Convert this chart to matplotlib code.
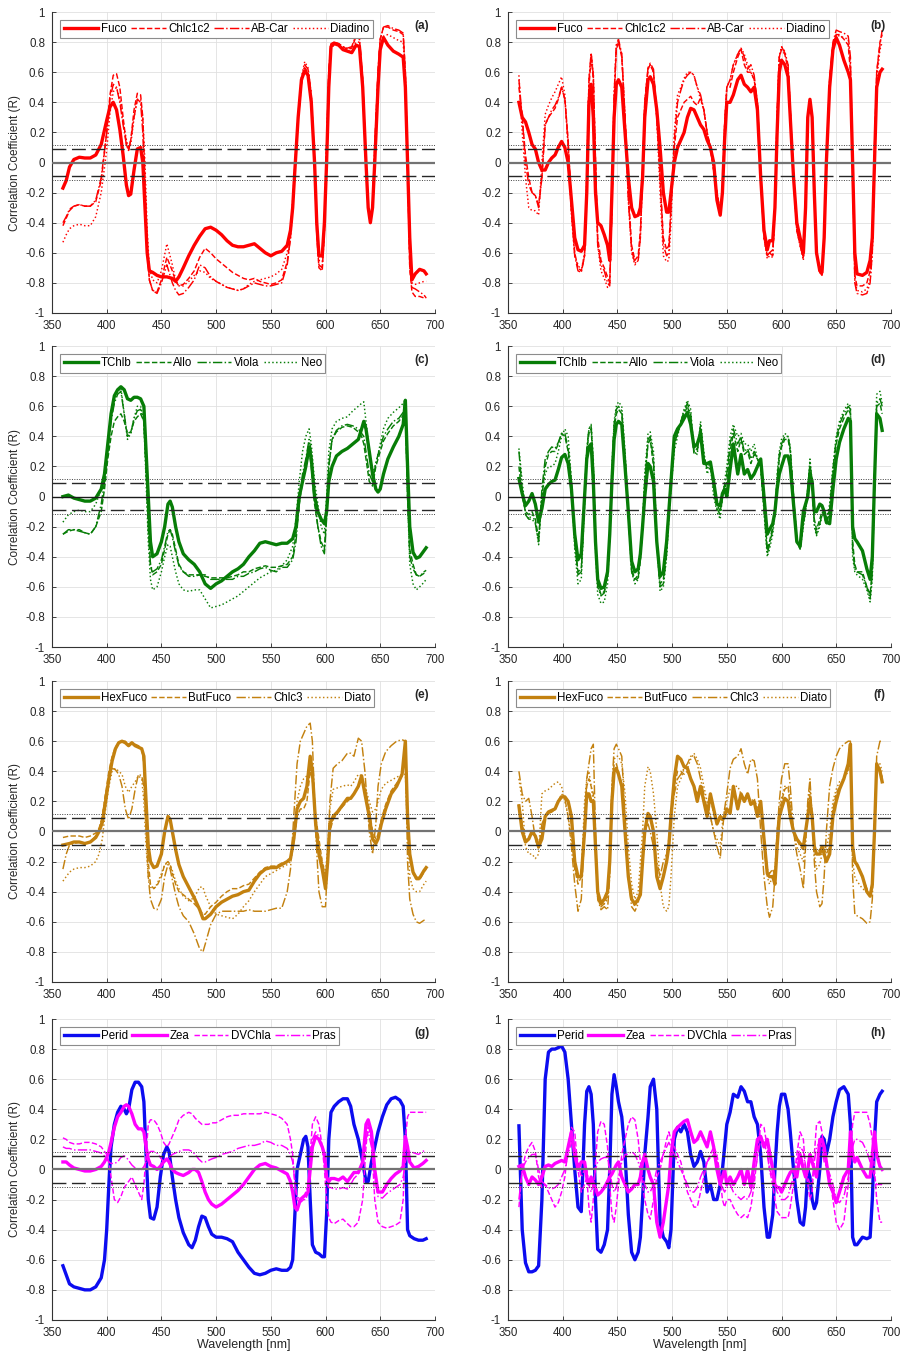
import matplotlib
matplotlib.use('Agg')
from matplotlib import pyplot as plt
from matplotlib.ticker import FuncFormatter

plt.rcParams['font.family'] = ['Liberation Sans', 'DejaVu Sans']

# ---------------- panel (a) ----------------
wl_a = [360, 363, 366, 370, 375, 380, 385, 390, 395, 400,
        403, 406, 409, 412, 415, 418, 420, 422, 425, 428,
        431, 433, 435, 437, 439, 442, 446, 450, 455, 460,
        463, 466, 470, 475, 480, 485, 490, 495, 500, 505,
        510, 515, 520, 525, 530, 535, 540, 545, 550, 555,
        560, 565, 568, 570, 572, 575, 578, 581, 584, 587,
        590, 592, 594, 597, 599, 601, 603, 605, 608, 612,
        616, 620, 624, 628, 631, 634, 637, 639, 641, 643,
        645, 648, 650, 653, 657, 662, 667, 671, 673, 675,
        677, 679, 682, 686, 690, 692]
fuco_a = [-0.17, -0.12, -0.03, 0.02, 0.035, 0.03, 0.03, 0.05, 0.12, 0.28,
          0.37, 0.40, 0.35, 0.22, 0.05, -0.15, -0.22, -0.21, -0.05, 0.09,
          0.10, 0.0, -0.3, -0.6, -0.72, -0.73, -0.75, -0.76, -0.76, -0.77,
          -0.79, -0.76, -0.7, -0.62, -0.55, -0.49, -0.44, -0.43, -0.45, -0.48,
          -0.52, -0.55, -0.56, -0.56, -0.55, -0.54, -0.57, -0.6, -0.62, -0.6,
          -0.59, -0.55, -0.45, -0.3, -0.05, 0.3, 0.55, 0.61, 0.58, 0.4,
          0.0, -0.4, -0.62, -0.62, -0.4, 0.0, 0.5, 0.77, 0.79, 0.78,
          0.75, 0.74, 0.73, 0.78, 0.77, 0.5, 0.0, -0.3, -0.4, -0.3,
          0.0, 0.5, 0.75, 0.83, 0.78, 0.74, 0.72, 0.7, 0.5, 0.0,
          -0.5, -0.78, -0.74, -0.71, -0.72, -0.74]
chl_a = [-0.42, -0.37, -0.32, -0.29, -0.28, -0.29, -0.29, -0.26, -0.12, 0.2,
         0.45, 0.58, 0.59, 0.5, 0.3, 0.12, 0.08, 0.15, 0.35, 0.46,
         0.45, 0.3, -0.1, -0.55, -0.78, -0.85, -0.86, -0.78, -0.63, -0.72,
         -0.79, -0.82, -0.81, -0.77, -0.72, -0.63, -0.57, -0.6, -0.64, -0.67,
         -0.7, -0.73, -0.75, -0.77, -0.78, -0.77, -0.79, -0.8, -0.81, -0.8,
         -0.78, -0.66, -0.5, -0.3, -0.05, 0.28, 0.52, 0.63, 0.6, 0.42,
         0.0, -0.48, -0.7, -0.72, -0.45, 0.1, 0.6, 0.79, 0.8, 0.79,
         0.77, 0.75, 0.76, 0.84, 0.82, 0.55, 0.0, -0.3, -0.4, -0.28,
         0.1, 0.6, 0.82, 0.9, 0.9, 0.88, 0.87, 0.85, 0.6, 0.0,
         -0.7, -0.86, -0.89, -0.89, -0.9, -0.9]
abcar_a = [-0.40, -0.36, -0.31, -0.29, -0.28, -0.29, -0.29, -0.25, -0.1, 0.2,
           0.42, 0.52, 0.5, 0.4, 0.25, 0.12, 0.08, 0.15, 0.3, 0.42,
           0.4, 0.2, -0.2, -0.6, -0.78, -0.85, -0.87, -0.8, -0.68, -0.8,
           -0.85, -0.88, -0.87, -0.83, -0.78, -0.68, -0.7, -0.76, -0.79, -0.81,
           -0.83, -0.84, -0.85, -0.84, -0.82, -0.8, -0.81, -0.82, -0.82, -0.81,
           -0.8, -0.68, -0.5, -0.3, -0.05, 0.3, 0.55, 0.65, 0.62, 0.45,
           0.0, -0.45, -0.68, -0.7, -0.45, 0.1, 0.6, 0.79, 0.8, 0.79,
           0.77, 0.76, 0.77, 0.85, 0.83, 0.55, 0.0, -0.3, -0.4, -0.28,
           0.1, 0.6, 0.82, 0.9, 0.91, 0.89, 0.88, 0.86, 0.6, 0.0,
           -0.7, -0.83, -0.84, -0.86, -0.88, -0.9]
diad_a = [-0.53, -0.48, -0.44, -0.42, -0.41, -0.42, -0.42, -0.36, -0.2, 0.08,
          0.33, 0.47, 0.5, 0.42, 0.27, 0.15, 0.1, 0.12, 0.3, 0.42,
          0.42, 0.3, 0.0, -0.45, -0.7, -0.78, -0.8, -0.72, -0.54, -0.68,
          -0.78, -0.82, -0.82, -0.79, -0.75, -0.72, -0.73, -0.77, -0.79, -0.81,
          -0.83, -0.84, -0.85, -0.84, -0.81, -0.79, -0.78, -0.77, -0.76, -0.74,
          -0.71, -0.6, -0.45, -0.25, -0.02, 0.32, 0.57, 0.67, 0.63, 0.45,
          0.0, -0.45, -0.65, -0.66, -0.42, 0.1, 0.55, 0.75, 0.79, 0.78,
          0.76, 0.76, 0.76, 0.8, 0.8, 0.5, -0.02, -0.3, -0.38, -0.3,
          0.05, 0.55, 0.75, 0.84, 0.85, 0.83, 0.81, 0.8, 0.55, 0.0,
          -0.6, -0.8, -0.81, -0.8, -0.79, -0.79]

# ---------------- panel (c) ----------------
wl_c = [360, 365, 370, 375, 380, 385, 390, 395, 398, 401,
        404, 407, 410, 413, 416, 419, 422, 425, 428, 431,
        434, 436, 438, 440, 442, 446, 450, 453, 456, 458,
        460, 463, 466, 470, 475, 480, 485, 490, 495, 500,
        505, 510, 515, 520, 525, 530, 535, 540, 545, 550,
        555, 560, 565, 570, 573, 576, 579, 582, 585, 587,
        590, 593, 596, 599, 601, 603, 606, 610, 615, 620,
        625, 630, 633, 635, 637, 640, 643, 646, 648, 650,
        653, 657, 662, 667, 671, 673, 675, 677, 680, 683,
        686, 690, 692]
tchlb_c = [0.0, 0.01, -0.01, -0.02, -0.03, -0.03, -0.01, 0.05, 0.15, 0.35,
           0.55, 0.67, 0.71, 0.73, 0.71, 0.65, 0.64, 0.66, 0.66, 0.65,
           0.6, 0.3, 0.0, -0.3, -0.4, -0.38, -0.3, -0.2, -0.05, -0.03,
           -0.07, -0.2, -0.3, -0.38, -0.42, -0.45, -0.5, -0.58, -0.61, -0.58,
           -0.56, -0.53, -0.5, -0.48, -0.45, -0.4, -0.36, -0.31, -0.3, -0.31,
           -0.32, -0.31, -0.31, -0.28, -0.2, 0.0, 0.1, 0.2, 0.33, 0.25,
           0.0, -0.1, -0.15, -0.18, -0.1, 0.1, 0.2, 0.27, 0.3, 0.32,
           0.35, 0.38, 0.45, 0.5, 0.45, 0.3, 0.15, 0.05, 0.03, 0.05,
           0.15, 0.25, 0.33, 0.4, 0.48, 0.64, 0.2, -0.2, -0.37, -0.41,
           -0.4, -0.36, -0.34]
allo_c = [-0.25, -0.23, -0.22, -0.22, -0.24, -0.25, -0.2, -0.1, 0.05, 0.25,
          0.4, 0.5, 0.53, 0.55, 0.5, 0.42, 0.43, 0.5, 0.53, 0.55,
          0.5, 0.2, -0.2, -0.45, -0.52, -0.5, -0.45, -0.35, -0.25, -0.22,
          -0.25, -0.35, -0.45, -0.5, -0.52, -0.52, -0.52, -0.53, -0.54, -0.54,
          -0.54, -0.54, -0.53, -0.52, -0.5, -0.5, -0.48, -0.47, -0.46, -0.47,
          -0.47, -0.46, -0.45, -0.4, -0.25, -0.05, 0.1, 0.2, 0.3, 0.2,
          -0.05, -0.2, -0.3, -0.35, -0.1, 0.2, 0.38, 0.43, 0.46, 0.47,
          0.46, 0.43, 0.4, 0.35, 0.25, 0.1, 0.07, 0.2, 0.25, 0.3,
          0.37, 0.42, 0.47, 0.5, 0.54, 0.6, 0.0, -0.35, -0.45, -0.52,
          -0.53, -0.51, -0.5]
viola_c = [-0.25, -0.22, -0.22, -0.23, -0.24, -0.25, -0.2, -0.05, 0.1, 0.3,
           0.5, 0.62, 0.68, 0.7, 0.55, 0.4, 0.42, 0.52, 0.57, 0.58,
           0.5, 0.2, -0.2, -0.45, -0.5, -0.48, -0.42, -0.33, -0.23, -0.22,
           -0.27, -0.37, -0.46, -0.5, -0.53, -0.53, -0.52, -0.52, -0.55, -0.55,
           -0.55, -0.55, -0.55, -0.53, -0.53, -0.51, -0.5, -0.48, -0.47, -0.49,
           -0.5, -0.47, -0.47, -0.42, -0.3, -0.05, 0.15, 0.25, 0.38, 0.3,
           0.0, -0.2, -0.33, -0.38, -0.15, 0.2, 0.38, 0.44, 0.47, 0.48,
           0.47, 0.45, 0.42, 0.4, 0.3, 0.15, 0.1, 0.22, 0.28, 0.33,
           0.4, 0.45, 0.5, 0.52, 0.56, 0.62, 0.0, -0.4, -0.48, -0.52,
           -0.53, -0.5, -0.49]
neo_c = [-0.17, -0.12, -0.1, -0.09, -0.1, -0.1, -0.05, 0.05, 0.15, 0.35,
         0.55, 0.65, 0.7, 0.72, 0.55, 0.38, 0.42, 0.52, 0.6, 0.6,
         0.5, 0.1, -0.3, -0.55, -0.62, -0.6, -0.5, -0.4, -0.32, -0.33,
         -0.4, -0.5, -0.58, -0.62, -0.63, -0.62, -0.62, -0.68, -0.74, -0.73,
         -0.72, -0.7, -0.68, -0.66, -0.63, -0.6, -0.57, -0.54, -0.52, -0.5,
         -0.49, -0.46, -0.42, -0.33, -0.15, 0.1, 0.3, 0.4, 0.45, 0.35,
         0.1, -0.05, -0.2, -0.25, 0.0, 0.3, 0.45, 0.5, 0.52, 0.53,
         0.57, 0.6, 0.62, 0.63, 0.5, 0.3, 0.15, 0.22, 0.28, 0.35,
         0.45, 0.52, 0.56, 0.59, 0.62, 0.64, 0.0, -0.45, -0.58, -0.62,
         -0.6, -0.57, -0.55]

# ---------------- panel (e) ----------------
wl_e = [360, 363, 366, 370, 375, 380, 385, 390, 393, 396,
        399, 402, 405, 408, 411, 414, 417, 420, 423, 426,
        429, 432, 434, 436, 438, 440, 443, 446, 450, 453,
        456, 458, 460, 463, 466, 470, 475, 480, 485, 488,
        490, 495, 500, 505, 510, 515, 520, 525, 530, 535,
        540, 545, 550, 555, 560, 565, 568, 571, 574, 577,
        580, 583, 586, 588, 591, 594, 597, 600, 602, 604,
        607, 611, 615, 620, 623, 626, 630, 633, 636, 640,
        643, 646, 648, 651, 655, 660, 665, 670, 673, 675,
        677, 680, 683, 686, 690, 692]
hex_e = [-0.09, -0.085, -0.08, -0.07, -0.07, -0.08, -0.07, -0.04, 0.0, 0.06,
         0.2, 0.35, 0.47, 0.55, 0.59, 0.6, 0.59, 0.57, 0.59, 0.57,
         0.56, 0.55, 0.5, 0.2, -0.1, -0.2, -0.24, -0.23, -0.15, 0.0,
         0.1, 0.08, 0.0, -0.12, -0.22, -0.3, -0.37, -0.44, -0.52, -0.58,
         -0.58, -0.55, -0.5, -0.47, -0.45, -0.43, -0.42, -0.4, -0.39, -0.33,
         -0.28, -0.25, -0.24, -0.24, -0.22, -0.2, -0.18, -0.05, 0.15, 0.2,
         0.22, 0.3, 0.5, 0.4, 0.05, -0.15, -0.25, -0.38, -0.2, 0.05,
         0.1, 0.13, 0.17, 0.22, 0.22, 0.25, 0.3, 0.37, 0.25, 0.1,
         -0.05, -0.08, -0.05, 0.05, 0.15, 0.25, 0.3, 0.38, 0.6, 0.1,
         -0.15, -0.27, -0.31, -0.31, -0.26, -0.24]
but_e = [-0.04, -0.035, -0.03, -0.03, -0.03, -0.04, -0.03, -0.01, 0.02, 0.1,
         0.25, 0.4, 0.5, 0.56, 0.59, 0.6, 0.6, 0.58, 0.59, 0.58,
         0.57, 0.55, 0.45, 0.1, -0.2, -0.35, -0.38, -0.36, -0.3, -0.22,
         -0.2, -0.22, -0.28, -0.35, -0.4, -0.42, -0.45, -0.48, -0.52, -0.55,
         -0.55, -0.5, -0.47, -0.43, -0.4, -0.38, -0.38, -0.36, -0.35, -0.31,
         -0.27, -0.24, -0.23, -0.23, -0.21, -0.2, -0.18, -0.08, 0.1, 0.15,
         0.15, 0.2, 0.4, 0.35, 0.1, -0.05, -0.2, -0.3, -0.2, 0.0,
         0.08, 0.12, 0.16, 0.2, 0.22, 0.25, 0.3, 0.35, 0.3, 0.15,
         0.0, -0.05, -0.02, 0.08, 0.18, 0.27, 0.32, 0.37, 0.55, 0.1,
         -0.15, -0.28, -0.32, -0.32, -0.27, -0.25]
chlc3_e = [-0.25, -0.15, -0.09, -0.08, -0.07, -0.08, -0.07, -0.03, 0.0, 0.1,
           0.25, 0.35, 0.42, 0.41, 0.38, 0.3, 0.15, 0.08, 0.15, 0.28,
           0.38, 0.37, 0.3, 0.0, -0.3, -0.45, -0.51, -0.52, -0.45, -0.3,
           -0.22, -0.25, -0.32, -0.42, -0.5, -0.56, -0.6, -0.68, -0.78, -0.8,
           -0.75, -0.62, -0.55, -0.53, -0.53, -0.53, -0.53, -0.53, -0.52, -0.53,
           -0.53, -0.53, -0.52, -0.51, -0.51, -0.4, -0.25, 0.1, 0.45, 0.6,
           0.65, 0.7, 0.72, 0.6, 0.0, -0.4, -0.5, -0.5, -0.2, 0.2,
           0.42, 0.45, 0.47, 0.52, 0.52, 0.5, 0.62, 0.6, 0.4, 0.0,
           -0.15, 0.05, 0.3, 0.45, 0.53, 0.57, 0.6, 0.61, 0.6, -0.2,
           -0.45, -0.55, -0.6, -0.61, -0.59, -0.59]
diato_e = [-0.33, -0.3, -0.27, -0.25, -0.24, -0.24, -0.23, -0.2, -0.15, -0.05,
           0.15, 0.3, 0.4, 0.42, 0.4, 0.38, 0.3, 0.26, 0.3, 0.33,
           0.37, 0.35, 0.2, -0.1, -0.3, -0.37, -0.38, -0.35, -0.28, -0.22,
           -0.21, -0.22, -0.26, -0.33, -0.38, -0.43, -0.46, -0.44, -0.37, -0.37,
           -0.42, -0.5, -0.55, -0.56, -0.57, -0.58, -0.55, -0.5, -0.46, -0.4,
           -0.35, -0.3, -0.28, -0.26, -0.24, -0.22, -0.2, -0.08, 0.2, 0.3,
           0.35, 0.37, 0.42, 0.35, 0.1, -0.1, -0.2, -0.28, -0.1, 0.15,
           0.28, 0.29, 0.3, 0.31, 0.3, 0.33, 0.38, 0.37, 0.3, 0.2,
           0.13, 0.15, 0.2, 0.28, 0.32, 0.34, 0.36, 0.38, 0.38, 0.0,
           -0.3, -0.38, -0.4, -0.4, -0.35, -0.33]

# ---------------- panel (g) ----------------
wl_g = [360, 363, 366, 370, 375, 380, 385, 390, 395, 398,
        400, 402, 404, 407, 410, 413, 416, 418, 420, 423,
        426, 429, 432, 434, 436, 438, 440, 443, 446, 449,
        452, 455, 457, 460, 463, 466, 470, 475, 478, 481,
        484, 487, 490, 493, 496, 500, 505, 510, 515, 520,
        525, 530, 535, 540, 545, 550, 555, 560, 565, 568,
        570, 572, 574, 577, 580, 582, 584, 586, 588, 591,
        594, 597, 599, 601, 603, 605, 608, 612, 616, 620,
        623, 626, 630, 634, 637, 639, 642, 645, 648, 652,
        656, 660, 664, 668, 671, 673, 675, 677, 681, 685,
        689, 692]
perid_g = [-0.64, -0.7, -0.76, -0.78, -0.79, -0.8, -0.8, -0.78, -0.72, -0.6,
           -0.4, -0.1, 0.15, 0.3, 0.38, 0.42, 0.4, 0.37, 0.4, 0.53,
           0.58, 0.58, 0.55, 0.45, 0.1, -0.2, -0.32, -0.33, -0.25, -0.05,
           0.1, 0.15, 0.12, -0.05, -0.2, -0.32, -0.42, -0.5, -0.52, -0.47,
           -0.38, -0.31, -0.32, -0.38, -0.43, -0.45, -0.45, -0.46, -0.48, -0.55,
           -0.6, -0.65, -0.69, -0.7, -0.69, -0.67, -0.66, -0.67, -0.67, -0.65,
           -0.6, -0.3, 0.0, 0.1, 0.2, 0.22, 0.15, -0.2, -0.5, -0.55,
           -0.56, -0.58, -0.58, -0.3, 0.2, 0.38, 0.42, 0.45, 0.47, 0.47,
           0.42, 0.3, 0.2, 0.05, -0.08, -0.08, 0.05, 0.15, 0.25, 0.35,
           0.43, 0.47, 0.48, 0.46, 0.42, 0.2, -0.4, -0.44, -0.46, -0.47,
           -0.47, -0.46]
zea_g = [0.05, 0.05, 0.03, 0.01, 0.0, -0.01, -0.01, 0.0, 0.02, 0.05,
         0.08, 0.12, 0.18, 0.28, 0.35, 0.38, 0.42, 0.43, 0.42, 0.37,
         0.3, 0.27, 0.27, 0.25, 0.15, 0.07, 0.03, 0.02, 0.0, 0.02,
         0.05, 0.07, 0.05, 0.0, -0.02, -0.03, -0.04, -0.02, 0.0, 0.0,
         -0.02, -0.08, -0.15, -0.2, -0.23, -0.25, -0.23, -0.2, -0.17, -0.14,
         -0.1, -0.05, 0.0, 0.03, 0.04, 0.02, 0.01, -0.01, -0.03, -0.08,
         -0.15, -0.25, -0.27, -0.2, -0.18, -0.17, -0.15, 0.0, 0.15, 0.22,
         0.2, 0.15, 0.1, -0.05, -0.08, -0.06, -0.06, -0.07, -0.05, -0.08,
         -0.05, -0.02, -0.02, 0.05, 0.3, 0.33, 0.25, 0.0, -0.15, -0.15,
         -0.1, -0.06, -0.03, -0.01, 0.02, 0.22, 0.15, 0.05, 0.01, 0.02,
         0.04, 0.06]
dvchla_g = [0.21, 0.2, 0.18, 0.17, 0.17, 0.18, 0.18, 0.17, 0.15, 0.12,
            0.1, 0.05, -0.05, -0.2, -0.22, -0.18, -0.12, -0.1, -0.08, -0.05,
            -0.1, -0.15, -0.2, -0.1, 0.1, 0.3, 0.33, 0.33, 0.3, 0.25,
            0.18, 0.15, 0.17, 0.22, 0.27, 0.33, 0.36, 0.38, 0.37, 0.34,
            0.32, 0.3, 0.3, 0.3, 0.31, 0.31, 0.33, 0.35, 0.36, 0.36,
            0.37, 0.37, 0.37, 0.37, 0.38, 0.37, 0.36, 0.34, 0.3, 0.2,
            0.1, -0.1, -0.2, -0.22, -0.2, -0.2, -0.15, 0.1, 0.3, 0.35,
            0.3, 0.15, 0.0, -0.2, -0.32, -0.35, -0.36, -0.34, -0.33, -0.36,
            -0.38, -0.38, -0.35, -0.2, 0.15, 0.3, 0.2, -0.2, -0.35, -0.38,
            -0.39, -0.38, -0.37, -0.35, -0.2, 0.2, 0.35, 0.38, 0.38, 0.38,
            0.38, 0.38]
pras_g = [0.15, 0.14, 0.14, 0.13, 0.13, 0.13, 0.13, 0.12, 0.11, 0.09,
          0.07, 0.05, 0.04, 0.04, 0.05, 0.08, 0.09, 0.08, 0.06, 0.03,
          0.01, 0.0, 0.0, 0.02, 0.05, 0.1, 0.12, 0.12, 0.11, 0.08,
          0.05, 0.06, 0.08, 0.1, 0.11, 0.12, 0.13, 0.13, 0.12, 0.1,
          0.07, 0.05, 0.05, 0.06, 0.07, 0.08, 0.1, 0.11, 0.12, 0.14,
          0.15, 0.16, 0.16, 0.17, 0.19, 0.18, 0.16, 0.16, 0.14, 0.1,
          0.05, -0.08, -0.18, -0.2, -0.18, -0.15, -0.1, 0.05, 0.2, 0.25,
          0.22, 0.15, 0.05, -0.08, -0.12, -0.12, -0.13, -0.13, -0.12, -0.13,
          -0.1, -0.06, -0.03, 0.05, 0.2, 0.25, 0.15, -0.05, -0.18, -0.19,
          -0.16, -0.14, -0.12, -0.1, -0.05, 0.05, 0.1, 0.12, 0.11, 0.1,
          0.12, 0.13]

# ---------------- right column, shared wavelengths ----------------
wl_r = [360, 363, 366, 369, 372, 375, 378, 381, 384, 387,
        390, 393, 396, 399, 402, 405, 408, 411, 414, 417,
        420, 422, 424, 426, 428, 430, 432, 435, 438, 441,
        443, 445, 447, 449, 451, 454, 457, 460, 463, 466,
        469, 471, 473, 475, 478, 480, 483, 486, 489, 492,
        495, 497, 499, 502, 505, 508, 511, 514, 517, 520,
        523, 526, 529, 532, 535, 538, 541, 544, 546, 548,
        550, 553, 556, 560, 563, 566, 569, 572, 575, 578,
        581, 584, 587, 589, 592, 594, 596, 598, 600, 603,
        606, 608, 611, 614, 617, 620, 622, 624, 626, 628,
        630, 632, 635, 637, 639, 641, 644, 647, 650, 653,
        657, 661, 663, 665, 667, 669, 674, 678, 681, 683,
        685, 687, 690, 692]

# panel (b)
fuco_b = [0.4, 0.3, 0.27, 0.2, 0.12, 0.09, 0.0, -0.05, -0.05, 0.0,
          0.03, 0.05, 0.1, 0.14, 0.1, 0.0, -0.25, -0.5, -0.58, -0.59,
          -0.55, -0.2, 0.4, 0.52, 0.3, -0.2, -0.4, -0.42, -0.48, -0.55,
          -0.65, -0.2, 0.3, 0.52, 0.55, 0.5, 0.2, -0.1, -0.3, -0.36,
          -0.35, -0.3, -0.1, 0.3, 0.55, 0.57, 0.52, 0.35, 0.1, -0.2,
          -0.33, -0.33, -0.2, 0.0, 0.1, 0.15, 0.2, 0.3, 0.36, 0.35,
          0.3, 0.25, 0.22, 0.15, 0.1, 0.0, -0.25, -0.35, -0.2, 0.15,
          0.4, 0.4, 0.45, 0.55, 0.58, 0.52, 0.5, 0.47, 0.5, 0.35,
          -0.1, -0.45, -0.58, -0.52, -0.52, -0.3, 0.2, 0.6, 0.68, 0.65,
          0.57, 0.3, -0.1, -0.4, -0.5, -0.6, -0.3, 0.3, 0.42, 0.3,
          -0.2, -0.6, -0.72, -0.73, -0.5, 0.0, 0.5, 0.75, 0.83, 0.78,
          0.68, 0.6, 0.55, 0.0, -0.6, -0.74, -0.75, -0.73, -0.65, -0.5,
          0.0, 0.5, 0.6, 0.62]
chl_b = [0.5, 0.3, 0.05, -0.1, -0.2, -0.22, -0.28, -0.1, 0.25, 0.3,
         0.33, 0.36, 0.42, 0.5, 0.42, 0.15, -0.3, -0.6, -0.7, -0.72,
         -0.62, -0.2, 0.5, 0.7, 0.55, 0.0, -0.5, -0.65, -0.7, -0.76,
         -0.8, -0.3, 0.4, 0.75, 0.8, 0.7, 0.3, -0.2, -0.55, -0.65,
         -0.62, -0.45, -0.1, 0.4, 0.62, 0.65, 0.6, 0.3, -0.1, -0.5,
         -0.58, -0.55, -0.3, 0.1, 0.3, 0.35, 0.4, 0.42, 0.44, 0.4,
         0.38, 0.43, 0.35, 0.2, 0.1, -0.05, -0.2, -0.32, -0.2, 0.2,
         0.5, 0.5, 0.6, 0.7, 0.75, 0.65, 0.6, 0.6, 0.55, 0.4,
         -0.1, -0.5, -0.62, -0.6, -0.58, -0.3, 0.3, 0.7, 0.75, 0.72,
         0.62, 0.35, -0.1, -0.45, -0.55, -0.63, -0.3, 0.3, 0.4, 0.3,
         -0.2, -0.6, -0.72, -0.74, -0.5, 0.0, 0.55, 0.78, 0.85, 0.85,
         0.82, 0.78, 0.6, 0.0, -0.75, -0.82, -0.82, -0.8, -0.72, -0.5,
         0.1, 0.6, 0.8, 0.85]
abcar_b = [0.55, 0.3, 0.0, -0.15, -0.2, -0.22, -0.3, -0.1, 0.25, 0.3,
           0.35, 0.38, 0.43, 0.5, 0.42, 0.12, -0.32, -0.62, -0.72, -0.73,
           -0.62, -0.15, 0.55, 0.73, 0.58, 0.0, -0.55, -0.68, -0.72, -0.8,
           -0.82, -0.3, 0.45, 0.78, 0.82, 0.72, 0.3, -0.25, -0.58, -0.67,
           -0.65, -0.5, -0.1, 0.4, 0.63, 0.66, 0.62, 0.32, -0.1, -0.55,
           -0.62, -0.6, -0.3, 0.15, 0.4, 0.48, 0.55, 0.58, 0.6, 0.58,
           0.5, 0.45, 0.35, 0.2, 0.1, -0.05, -0.22, -0.33, -0.2, 0.25,
           0.5, 0.55, 0.65, 0.72, 0.76, 0.7, 0.62, 0.65, 0.58, 0.4,
           -0.1, -0.5, -0.62, -0.6, -0.62, -0.3, 0.3, 0.7, 0.77, 0.73,
           0.65, 0.35, -0.1, -0.45, -0.55, -0.64, -0.3, 0.3, 0.4, 0.3,
           -0.2, -0.6, -0.73, -0.75, -0.5, 0.0, 0.55, 0.8, 0.88, 0.87,
           0.86, 0.84, 0.7, 0.0, -0.8, -0.87, -0.88, -0.87, -0.8, -0.6,
           0.0, 0.6, 0.78, 0.88]
diad_b = [0.58, 0.2, -0.1, -0.3, -0.32, -0.32, -0.35, 0.0, 0.32, 0.38,
          0.43, 0.47, 0.52, 0.57, 0.45, 0.1, -0.35, -0.62, -0.68, -0.72,
          -0.6, -0.1, 0.55, 0.72, 0.6, 0.0, -0.55, -0.72, -0.77, -0.83,
          -0.8, -0.3, 0.45, 0.78, 0.8, 0.72, 0.3, -0.25, -0.6, -0.68,
          -0.65, -0.5, -0.1, 0.4, 0.62, 0.65, 0.6, 0.3, -0.2, -0.62,
          -0.66, -0.65, -0.4, 0.2, 0.45, 0.5, 0.56, 0.6, 0.6, 0.58,
          0.5, 0.42, 0.35, 0.2, 0.1, -0.05, -0.2, -0.33, -0.2, 0.25,
          0.5, 0.55, 0.65, 0.72, 0.76, 0.72, 0.65, 0.6, 0.55, 0.4,
          -0.1, -0.5, -0.64, -0.62, -0.63, -0.3, 0.3, 0.7, 0.77, 0.74,
          0.65, 0.35, -0.1, -0.45, -0.55, -0.65, -0.3, 0.3, 0.4, 0.3,
          -0.2, -0.6, -0.73, -0.75, -0.5, 0.0, 0.52, 0.78, 0.85, 0.84,
          0.83, 0.82, 0.65, 0.0, -0.78, -0.85, -0.86, -0.84, -0.78, -0.6,
          0.0, 0.55, 0.75, 0.8]

# panel (d)
tchlb_d = [0.12, 0.02, -0.06, -0.03, 0.02, -0.05, -0.17, -0.08, 0.05, 0.08,
           0.1, 0.11, 0.18, 0.26, 0.28, 0.22, 0.05, -0.25, -0.42, -0.38,
           0.0, 0.25, 0.33, 0.35, 0.1, -0.3, -0.55, -0.61, -0.6, -0.5,
           -0.25, 0.1, 0.38, 0.48, 0.5, 0.48, 0.2, -0.1, -0.43, -0.5,
           -0.48, -0.38, -0.2, 0.0, 0.22, 0.2, 0.1, -0.3, -0.53, -0.5,
           -0.3, -0.1, 0.1, 0.4, 0.45, 0.48, 0.52, 0.56, 0.48, 0.33,
           0.35, 0.42, 0.22, 0.22, 0.23, 0.1, -0.05, -0.06, 0.02, 0.05,
           0.0, 0.18, 0.35, 0.15, 0.28, 0.15, 0.18, 0.12, 0.15, 0.2,
           0.25, 0.0, -0.25, -0.22, -0.18, -0.1, 0.05, 0.15, 0.2, 0.27,
           0.27, 0.2, -0.05, -0.3, -0.33, -0.1, -0.05, 0.0, 0.15, 0.1,
           -0.1, -0.1, -0.05, -0.06, -0.1, -0.17, -0.18, 0.05, 0.25, 0.36,
           0.45, 0.52, 0.5, -0.2, -0.28, -0.3, -0.36, -0.48, -0.55, -0.4,
           0.1, 0.55, 0.52, 0.44]
allo_d = [0.2, 0.0, -0.1, -0.12, -0.1, -0.15, -0.28, 0.0, 0.2, 0.28,
          0.3, 0.3, 0.35, 0.42, 0.4, 0.3, 0.1, -0.3, -0.5, -0.48,
          0.0, 0.3, 0.42, 0.45, 0.2, -0.3, -0.58, -0.65, -0.63, -0.52,
          -0.25, 0.15, 0.45, 0.55, 0.58, 0.55, 0.25, -0.1, -0.48, -0.55,
          -0.52, -0.4, -0.2, 0.1, 0.35, 0.38, 0.2, -0.3, -0.58, -0.55,
          -0.35, -0.1, 0.1, 0.35, 0.42, 0.48, 0.55, 0.6, 0.52, 0.3,
          0.32, 0.45, 0.25, 0.2, 0.22, 0.08, -0.05, -0.1, 0.0, 0.05,
          0.1, 0.3, 0.42, 0.3, 0.38, 0.28, 0.3, 0.22, 0.28, 0.25,
          0.2, -0.05, -0.35, -0.3, -0.2, -0.1, 0.1, 0.25, 0.33, 0.38,
          0.38, 0.3, 0.0, -0.3, -0.33, -0.15, -0.08, 0.05, 0.2, 0.1,
          -0.15, -0.22, -0.15, -0.1, -0.12, -0.18, -0.1, 0.15, 0.35, 0.45,
          0.52, 0.58, 0.55, -0.3, -0.45, -0.5, -0.5, -0.6, -0.65, -0.5,
          0.1, 0.6, 0.62, 0.55]
viola_d = [0.3, 0.05, -0.12, -0.15, -0.15, -0.18, -0.3, 0.05, 0.25, 0.3,
           0.33, 0.32, 0.36, 0.42, 0.42, 0.32, 0.1, -0.3, -0.52, -0.5,
           0.0, 0.32, 0.45, 0.47, 0.22, -0.3, -0.6, -0.66, -0.64, -0.52,
           -0.25, 0.15, 0.48, 0.58, 0.6, 0.57, 0.25, -0.1, -0.5, -0.56,
           -0.54, -0.42, -0.2, 0.1, 0.38, 0.4, 0.25, -0.3, -0.6, -0.58,
           -0.38, -0.1, 0.1, 0.35, 0.42, 0.5, 0.57, 0.62, 0.55, 0.28,
           0.3, 0.48, 0.28, 0.18, 0.22, 0.05, -0.08, -0.12, 0.0, 0.08,
           0.15, 0.35, 0.45, 0.35, 0.4, 0.3, 0.32, 0.25, 0.3, 0.25,
           0.2, -0.08, -0.38, -0.32, -0.22, -0.1, 0.12, 0.28, 0.35, 0.4,
           0.4, 0.32, 0.0, -0.3, -0.35, -0.18, -0.1, 0.05, 0.22, 0.1,
           -0.18, -0.25, -0.18, -0.12, -0.13, -0.18, -0.08, 0.18, 0.38, 0.48,
           0.55, 0.6, 0.58, -0.35, -0.48, -0.5, -0.52, -0.6, -0.68, -0.5,
           0.1, 0.62, 0.65, 0.6]
neo_d = [0.32, 0.1, -0.1, -0.15, -0.12, -0.17, -0.32, 0.0, 0.15, 0.2,
         0.2, 0.22, 0.3, 0.4, 0.45, 0.4, 0.1, -0.35, -0.58, -0.55,
         -0.05, 0.3, 0.45, 0.48, 0.25, -0.35, -0.65, -0.71, -0.7, -0.58,
         -0.25, 0.2, 0.5, 0.6, 0.63, 0.6, 0.3, -0.1, -0.5, -0.58,
         -0.55, -0.42, -0.2, 0.15, 0.42, 0.43, 0.3, -0.3, -0.63, -0.6,
         -0.4, -0.15, 0.05, 0.3, 0.4, 0.5, 0.58, 0.64, 0.58, 0.3,
         0.28, 0.5, 0.3, 0.15, 0.2, 0.0, -0.1, -0.15, 0.0, 0.1,
         0.2, 0.4, 0.48, 0.4, 0.42, 0.35, 0.35, 0.3, 0.35, 0.25,
         0.2, -0.1, -0.4, -0.35, -0.25, -0.12, 0.15, 0.3, 0.38, 0.42,
         0.4, 0.33, 0.0, -0.28, -0.35, -0.2, -0.1, 0.05, 0.25, 0.1,
         -0.2, -0.26, -0.2, -0.12, -0.1, -0.15, -0.05, 0.2, 0.4, 0.5,
         0.57, 0.62, 0.6, -0.4, -0.5, -0.52, -0.55, -0.62, -0.7, -0.55,
         0.1, 0.68, 0.7, 0.62]

# panel (f)
hex_f = [0.17, 0.0, -0.07, -0.05, 0.0, -0.03, -0.1, -0.05, 0.1, 0.13,
         0.14, 0.15, 0.2, 0.23, 0.23, 0.2, 0.1, -0.2, -0.3, -0.3,
         0.0, 0.25, 0.25, 0.2, 0.2, -0.1, -0.4, -0.48, -0.45, -0.4,
         -0.2, 0.2, 0.4, 0.42, 0.38, 0.3, 0.0, -0.3, -0.45, -0.48,
         -0.45, -0.42, -0.2, 0.0, 0.12, 0.1, 0.0, -0.3, -0.38, -0.3,
         -0.2, -0.1, 0.1, 0.35, 0.5, 0.48, 0.43, 0.42, 0.35, 0.3,
         0.2, 0.3, 0.2, 0.1, 0.25, 0.15, 0.05, 0.1, 0.08, 0.1,
         0.15, 0.12, 0.3, 0.15, 0.25, 0.2, 0.25, 0.18, 0.2, 0.1,
         0.2, -0.05, -0.28, -0.3, -0.3, -0.35, -0.1, 0.1, 0.15, 0.22,
         0.2, 0.1, 0.0, -0.05, -0.08, -0.1, 0.0, 0.1, 0.2, 0.1,
         -0.1, -0.15, -0.15, -0.1, -0.15, -0.2, -0.15, 0.1, 0.2, 0.28,
         0.35, 0.45, 0.58, -0.1, -0.2, -0.22, -0.3, -0.4, -0.43, -0.35,
         0.0, 0.45, 0.4, 0.33]
but_f = [0.18, 0.05, -0.05, -0.05, 0.0, -0.03, -0.1, 0.0, 0.1, 0.12,
         0.13, 0.15, 0.2, 0.23, 0.23, 0.2, 0.05, -0.25, -0.35, -0.3,
         0.05, 0.3, 0.35, 0.3, 0.25, -0.1, -0.42, -0.5, -0.48, -0.42,
         -0.2, 0.25, 0.45, 0.45, 0.4, 0.3, 0.0, -0.3, -0.45, -0.5,
         -0.45, -0.4, -0.2, 0.0, 0.12, 0.1, 0.0, -0.28, -0.36, -0.3,
         -0.2, -0.1, 0.1, 0.3, 0.4, 0.4, 0.38, 0.4, 0.35, 0.3,
         0.25, 0.3, 0.22, 0.12, 0.22, 0.12, 0.05, 0.1, 0.08, 0.1,
         0.15, 0.12, 0.28, 0.15, 0.25, 0.2, 0.24, 0.18, 0.2, 0.1,
         0.2, -0.05, -0.25, -0.28, -0.25, -0.3, -0.05, 0.12, 0.2, 0.28,
         0.3, 0.15, 0.0, -0.05, -0.1, -0.12, 0.0, 0.12, 0.25, 0.1,
         -0.1, -0.15, -0.12, -0.1, -0.12, -0.15, -0.1, 0.15, 0.25, 0.3,
         0.35, 0.42, 0.55, -0.1, -0.2, -0.22, -0.3, -0.38, -0.42, -0.35,
         0.0, 0.45, 0.42, 0.36]
chlc3_f = [0.4, 0.25, 0.2, 0.22, 0.1, -0.05, -0.12, 0.05, 0.1, 0.12,
           0.13, 0.15, 0.2, 0.25, 0.22, 0.1, -0.1, -0.35, -0.53, -0.45,
           0.0, 0.35, 0.45, 0.55, 0.58, 0.0, -0.45, -0.52, -0.5, -0.52,
           -0.3, 0.3, 0.55, 0.58, 0.55, 0.5, 0.1, -0.3, -0.5, -0.53,
           -0.48, -0.35, -0.2, 0.0, 0.05, 0.0, -0.1, -0.2, -0.3, -0.2,
           -0.15, -0.05, 0.1, 0.25, 0.35, 0.38, 0.42, 0.45, 0.5, 0.5,
           0.45, 0.35, 0.25, 0.15, 0.1, 0.0, -0.1, -0.18, 0.0, 0.15,
           0.25, 0.42, 0.48, 0.5, 0.55, 0.45, 0.38, 0.48, 0.47, 0.35,
           0.0, -0.3, -0.5, -0.57, -0.5, -0.3, 0.0, 0.2, 0.35, 0.45,
           0.45, 0.3, 0.0, -0.15, -0.25, -0.38, -0.1, 0.2, 0.35, 0.1,
           -0.2, -0.4, -0.5, -0.48, -0.3, 0.0, 0.3, 0.42, 0.5, 0.55,
           0.58, 0.6, 0.6, -0.3, -0.55, -0.56, -0.58, -0.61, -0.6, -0.45,
           0.0, 0.5, 0.6, 0.6]
diato_f = [0.35, 0.2, -0.1, -0.15, -0.15, -0.18, -0.15, 0.25, 0.27, 0.28,
           0.3, 0.32, 0.33, 0.3, 0.2, 0.1, -0.05, -0.2, -0.32, -0.28,
           0.2, 0.35, 0.4, 0.3, 0.2, -0.1, -0.45, -0.5, -0.48, -0.45,
           -0.2, 0.3, 0.48, 0.5, 0.5, 0.45, 0.25, -0.1, -0.35, -0.45,
           -0.4, -0.2, 0.0, 0.3, 0.43, 0.4, 0.25, 0.0, -0.35, -0.5,
           -0.53, -0.5, -0.3, 0.1, 0.3, 0.35, 0.42, 0.42, 0.48, 0.52,
           0.48, 0.42, 0.3, 0.2, 0.1, 0.0, -0.05, -0.1, 0.05, 0.15,
           0.2, 0.28, 0.3, 0.3, 0.25, 0.22, 0.25, 0.2, 0.22, 0.15,
           0.2, -0.1, -0.3, -0.35, -0.3, -0.25, 0.0, 0.15, 0.22, 0.3,
           0.3, 0.2, 0.0, -0.1, -0.15, -0.2, -0.05, 0.15, 0.3, 0.1,
           -0.15, -0.25, -0.22, -0.15, -0.1, -0.12, 0.0, 0.2, 0.28, 0.33,
           0.35, 0.4, 0.45, -0.2, -0.3, -0.33, -0.38, -0.4, -0.42, -0.35,
           0.0, 0.45, 0.45, 0.4]

# panel (h)
perid_h = [0.29, -0.4, -0.62, -0.68, -0.68, -0.67, -0.64, -0.2, 0.6, 0.78,
           0.8, 0.8, 0.81, 0.82, 0.78, 0.6, 0.3, 0.0, -0.25, -0.28,
           0.3, 0.52, 0.55, 0.5, 0.3, -0.2, -0.53, -0.55, -0.5, -0.4,
           0.0, 0.5, 0.63, 0.55, 0.45, 0.35, 0.1, -0.3, -0.55, -0.6,
           -0.55, -0.45, -0.2, 0.1, 0.35, 0.55, 0.6, 0.4, -0.35, -0.45,
           -0.48, -0.52, -0.4, 0.2, 0.28, 0.25, 0.3, 0.25, 0.1, 0.02,
           0.05, 0.12, 0.05, -0.15, -0.1, -0.2, -0.2, -0.1, 0.0, 0.15,
           0.3, 0.38, 0.5, 0.48, 0.55, 0.52, 0.45, 0.45, 0.35, 0.3,
           0.1, -0.25, -0.45, -0.45, -0.3, 0.0, 0.25, 0.42, 0.5, 0.5,
           0.4, 0.25, 0.0, -0.2, -0.35, -0.37, -0.25, 0.0, -0.05, -0.2,
           -0.26, -0.22, 0.0, 0.22, 0.2, 0.1, 0.2, 0.35, 0.45, 0.53,
           0.55, 0.5, 0.3, -0.45, -0.5, -0.5, -0.45, -0.46, -0.45, -0.2,
           0.2, 0.45, 0.5, 0.52]
zea_h = [0.02, 0.03, -0.05, -0.1, -0.05, -0.07, -0.1, -0.05, 0.02, 0.03,
         0.02, 0.04, 0.05, 0.06, 0.05, 0.15, 0.25, 0.1, 0.0, 0.05,
         0.05, -0.05, -0.1, -0.05, -0.1, -0.12, -0.17, -0.15, -0.12, -0.08,
         -0.05, -0.03, 0.0, 0.03, 0.05, -0.05, -0.1, -0.15, -0.13, -0.1,
         -0.1, -0.05, 0.05, 0.1, 0.0, -0.05, -0.1, -0.35, -0.45, -0.35,
         -0.2, -0.1, 0.1, 0.25, 0.28, 0.3, 0.32, 0.33, 0.25, 0.18,
         0.2, 0.25, 0.2, 0.15, 0.25, 0.15, 0.0, -0.1, -0.05, 0.0,
         -0.1, -0.05, -0.1, -0.05, 0.0, -0.1, 0.0, -0.12, 0.05, 0.2,
         0.22, 0.15, 0.2, 0.12, 0.0, -0.1, -0.12, -0.12, -0.15, -0.1,
         -0.05, -0.02, 0.0, -0.05, 0.1, 0.0, -0.05, 0.0, 0.1, 0.05,
         0.0, -0.05, 0.2, 0.2, 0.15, 0.05, -0.1, -0.15, -0.22, -0.15,
         -0.05, 0.0, 0.25, 0.1, 0.05, 0.08, 0.0, -0.05, -0.05, 0.1,
         0.25, 0.1, 0.02, 0.0]
dvchla_h = [-0.25, 0.0, 0.1, 0.15, 0.18, 0.12, -0.05, -0.12, -0.1, -0.15,
            -0.2, -0.25, -0.22, -0.15, -0.05, 0.15, 0.28, 0.25, 0.0, -0.15,
            -0.1, -0.05, -0.25, -0.35, -0.2, 0.05, 0.25, 0.32, 0.3, 0.15,
            -0.1, -0.3, -0.35, -0.25, -0.1, 0.1, 0.2, 0.3, 0.35, 0.33,
            0.2, 0.05, -0.1, -0.2, -0.3, -0.33, -0.2, -0.05, 0.0, 0.1,
            0.2, 0.25, 0.2, 0.15, 0.1, 0.05, -0.05, -0.15, -0.2, -0.25,
            -0.25, -0.15, -0.05, 0.05, 0.1, 0.15, 0.1, -0.05, -0.2, -0.25,
            -0.2, -0.2, -0.25, -0.3, -0.32, -0.3, -0.32, -0.25, -0.1, 0.1,
            0.3, 0.28, 0.15, 0.0, -0.1, -0.2, -0.28, -0.3, -0.32, -0.32,
            -0.32, -0.25, -0.1, 0.1, 0.25, 0.2, 0.0, -0.1, -0.2, -0.15,
            0.1, 0.3, 0.32, 0.25, 0.1, 0.05, -0.05, -0.2, -0.35, -0.4,
            -0.35, -0.1, 0.1, 0.3, 0.38, 0.38, 0.38, 0.38, 0.3, 0.2,
            0.0, -0.2, -0.35, -0.35]
pras_h = [-0.2, 0.0, 0.05, 0.08, 0.1, 0.1, 0.0, -0.08, -0.1, -0.12,
          -0.13, -0.12, -0.1, -0.05, 0.0, 0.1, 0.18, 0.15, 0.05, -0.05,
          0.0, 0.0, -0.1, -0.15, -0.1, 0.0, 0.05, 0.07, 0.08, 0.08,
          0.0, -0.1, -0.15, -0.12, -0.05, 0.05, 0.1, 0.1, 0.12, 0.1,
          0.05, 0.0, -0.05, -0.1, -0.15, -0.15, -0.1, 0.0, 0.05, 0.1,
          0.15, 0.18, 0.15, 0.1, 0.05, 0.0, -0.05, -0.1, -0.15, -0.15,
          -0.12, -0.05, 0.0, 0.05, 0.08, 0.1, 0.05, -0.05, -0.12, -0.15,
          -0.12, -0.1, -0.15, -0.18, -0.2, -0.18, -0.2, -0.15, -0.05, 0.08,
          0.2, 0.18, 0.1, 0.0, -0.05, -0.1, -0.15, -0.17, -0.2, -0.2,
          -0.18, -0.12, -0.05, 0.05, 0.15, 0.12, 0.0, -0.05, -0.1, -0.08,
          0.05, 0.15, 0.18, 0.15, 0.05, 0.02, -0.03, -0.1, -0.2, -0.22,
          -0.18, -0.05, 0.05, 0.15, 0.2, 0.2, 0.18, 0.12, 0.05, 0.0,
          -0.05, -0.1, -0.1, -0.1]

# significance levels drawn as horizontal lines
r_dash = 0.09
r_dot = 0.115

red = '#ff0000'
green = '#077d07'
gold = '#c3810f'
blue = '#0c0cf0'
mag = '#ff00ff'

THICK = 2.4
THIN = 1.05

# label, wavelengths, [(name, values, linestyle, width, colour)]
panels = [
    ('(a)', wl_a, [('Fuco', fuco_a, '-', THICK, red), ('Chlc1c2', chl_a, '--', THIN, red),
                   ('AB-Car', abcar_a, '-.', THIN, red), ('Diadino', diad_a, ':', THIN, red)]),
    ('(b)', wl_r, [('Fuco', fuco_b, '-', THICK, red), ('Chlc1c2', chl_b, '--', THIN, red),
                   ('AB-Car', abcar_b, '-.', THIN, red), ('Diadino', diad_b, ':', THIN, red)]),
    ('(c)', wl_c, [('TChlb', tchlb_c, '-', THICK, green), ('Allo', allo_c, '--', THIN, green),
                   ('Viola', viola_c, '-.', THIN, green), ('Neo', neo_c, ':', THIN, green)]),
    ('(d)', wl_r, [('TChlb', tchlb_d, '-', THICK, green), ('Allo', allo_d, '--', THIN, green),
                   ('Viola', viola_d, '-.', THIN, green), ('Neo', neo_d, ':', THIN, green)]),
    ('(e)', wl_e, [('HexFuco', hex_e, '-', THICK, gold), ('ButFuco', but_e, '--', THIN, gold),
                   ('Chlc3', chlc3_e, '-.', THIN, gold), ('Diato', diato_e, ':', THIN, gold)]),
    ('(f)', wl_r, [('HexFuco', hex_f, '-', THICK, gold), ('ButFuco', but_f, '--', THIN, gold),
                   ('Chlc3', chlc3_f, '-.', THIN, gold), ('Diato', diato_f, ':', THIN, gold)]),
    ('(g)', wl_g, [('Perid', perid_g, '-', THICK, blue), ('Zea', zea_g, '-', THICK, mag),
                   ('DVChla', dvchla_g, '--', THIN, mag), ('Pras', pras_g, '-.', THIN, mag)]),
    ('(h)', wl_r, [('Perid', perid_h, '-', THICK, blue), ('Zea', zea_h, '-', THICK, mag),
                   ('DVChla', dvchla_h, '--', THIN, mag), ('Pras', pras_h, '-.', THIN, mag)]),
]

fig = plt.figure(figsize=(9.01, 13.52), dpi=100)
lefts = [0.0577, 0.5638]
bottoms = [0.7685, 0.5214, 0.2737, 0.0237]
w, h = 0.425, 0.2226
tc = '#262626'


def fmt(v, pos):
    v = round(v, 2)
    if v == 0:
        return '0'
    return ('%g' % v).replace('\u2212', '-')


for k, (lab, wl, series) in enumerate(panels):
    row, col = k // 2, k % 2
    ax = fig.add_axes([lefts[col], bottoms[row], w, h])
    handles = []
    for name, vals, ls, lw, c in series:
        assert len(vals) == len(wl), (lab, name, len(vals), len(wl))
        ln, = ax.plot(wl, vals, ls=ls, lw=lw, color=c, label=name, zorder=2)
        handles.append(ln)

    # zero line is thin black in the green row, thicker grey elsewhere
    zc, zw = ('0.1', 1.0) if lab in ('(c)', '(d)') else ('0.45', 1.6)
    ax.axhline(0, color=zc, lw=zw, zorder=3)
    for s in (1, -1):
        ax.axhline(s * r_dash, color='0.15', lw=1.0, ls=(0, (10, 4)), zorder=3)
        ax.axhline(s * r_dot, color='0.25', lw=0.7, ls=(0, (1, 1.5)), zorder=3)

    ax.set_xlim(350, 700)
    ax.set_ylim(-1, 1)
    ax.set_xticks(range(350, 701, 50))
    ax.set_yticks([i / 10 for i in range(-10, 11, 2)])
    ax.yaxis.set_major_formatter(FuncFormatter(fmt))
    ax.grid(True, color='0.88', lw=0.6, zorder=0)
    ax.set_axisbelow(True)
    for sp in ('top', 'right'):
        ax.spines[sp].set_visible(False)
    for sp in ('left', 'bottom'):
        ax.spines[sp].set_color('0.2')
        ax.spines[sp].set_linewidth(0.8)
    ax.tick_params(direction='in', length=3, width=0.6, colors=tc, labelsize=8.3)
    ax.tick_params(axis='x', pad=5)
    ax.tick_params(axis='y', pad=5)

    leg = ax.legend(handles=handles, loc='upper left', bbox_to_anchor=(0.022, 0.975),
                    ncol=4, fontsize=8.3, handlelength=3.0, handletextpad=0.2,
                    columnspacing=0.4, borderpad=0.3, borderaxespad=0,
                    fancybox=False, framealpha=1)
    leg.get_frame().set_edgecolor('0.55')
    leg.get_frame().set_linewidth(0.8)

    ax.text(0.985, 0.975, lab, transform=ax.transAxes, ha='right', va='top',
            fontsize=8.5, fontweight='bold', color=tc)
    if col == 0:
        ax.set_ylabel('Correlation Coefficient (R)', fontsize=8.5, color=tc, labelpad=3)
    if row == 3:
        ax.set_xlabel('Wavelength [nm]', fontsize=9, color=tc, labelpad=0)

fig.savefig('out.png', dpi=100)
